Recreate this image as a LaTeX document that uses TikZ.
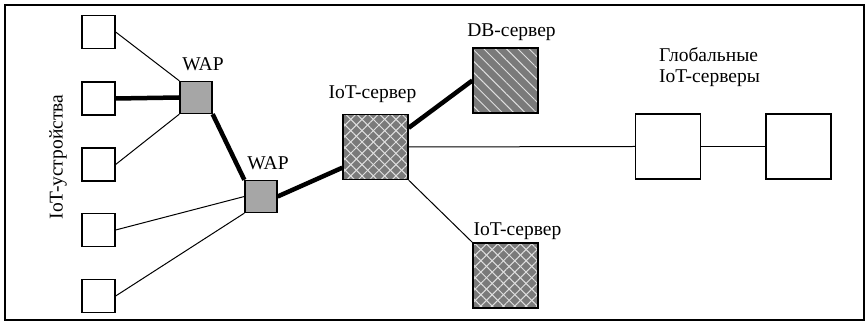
\documentclass[tikz,border=0pt]{standalone}
\usepackage{fontspec}
\setmainfont{Liberation Serif}
\usetikzlibrary{patterns.meta}
\tikzset{
  dev/.style={draw,line width=1.3pt,fill=white,minimum size=33pt,inner sep=0pt},
  wap/.style={dev,fill=black!35,minimum size=32pt},
  hatch/.style={pattern={Lines[angle=#1,distance=8pt,line width=1pt]},pattern color=white!75!gray},
  srv/.style={draw,line width=1.3pt,minimum size=65pt,inner sep=0pt,
    preaction={fill=black!52},preaction={hatch=45},preaction={hatch=-45}},
  dbsrv/.style={draw,line width=1.3pt,minimum size=65pt,inner sep=0pt,
    preaction={fill=black!52},preaction={hatch=-45}},
  glob/.style={dev,minimum size=65pt},
  lbl/.style={font=\fontsize{19.5}{21}\selectfont,inner sep=2pt},
  link/.style={line width=1pt},
  fat/.style={line width=4.5pt}
}
\begin{document}
\begin{tikzpicture}[x=1pt,y=1pt]
  \useasboundingbox (0,0) rectangle (866,323);
  \draw[line width=1.5pt] (5,3) rectangle (864,318);

  % IoT devices
  \node[dev] (d1) at (98.5,291) {};
  \node[dev] (d2) at (98.5,224.5) {};
  \node[dev] (d3) at (98.5,158.5) {};
  \node[dev] (d4) at (98.5,93) {};
  \node[dev] (d5) at (98.5,27) {};
  \node[lbl,rotate=90] (devl) at (58,166) {IoT-устройства};

  % access points
  \node[wap,label={[lbl,xshift=7pt,label distance=8pt]above:WAP}] (w1) at (196,225.5) {};
  \node[wap,label={[lbl,xshift=7pt,label distance=8pt]above:WAP}] (w2) at (261,126.5) {};

  % servers
  \node[srv,label={[lbl,xshift=-3pt,label distance=9pt]above:IoT-сервер}] (s1) at (375.5,176) {};
  \node[dbsrv,label={[lbl,xshift=6pt,label distance=4pt]above:DB-сервер}] (db) at (505.5,242.5) {};
  \node[srv,label={[lbl,xshift=12pt]above:IoT-сервер}] (s2) at (505.5,47.5) {};
  \node[glob] (g1) at (668,176.5) {};
  \node[glob] (g2) at (798.5,176.5) {};
  \node[lbl,align=left,anchor=west] (gl) at (657,256) {Глобальные\\IoT-серверы};

  \draw[link] (d1.east) -- (w1.north west);
  \draw[fat] (d2.east) -- (w1.west);
  \draw[link] (d3.east) -- (w1.south west);
  \draw[link] (d4.east) -- (w2.west);
  \draw[link] (d5.east) -- (w2.south west);
  \draw[fat] (w1.south east) -- (w2.north west);
  \draw[fat] (w2.east) -- (s1.212);
  \draw[fat] (s1.30) -- (db.west);
  \draw[link] (s1.east) -- (g1.west);
  \draw[link] (g1.east) -- (g2.west);
  \draw[link] (s1.south east) -- (s2.north west);
\end{tikzpicture}
\end{document}
